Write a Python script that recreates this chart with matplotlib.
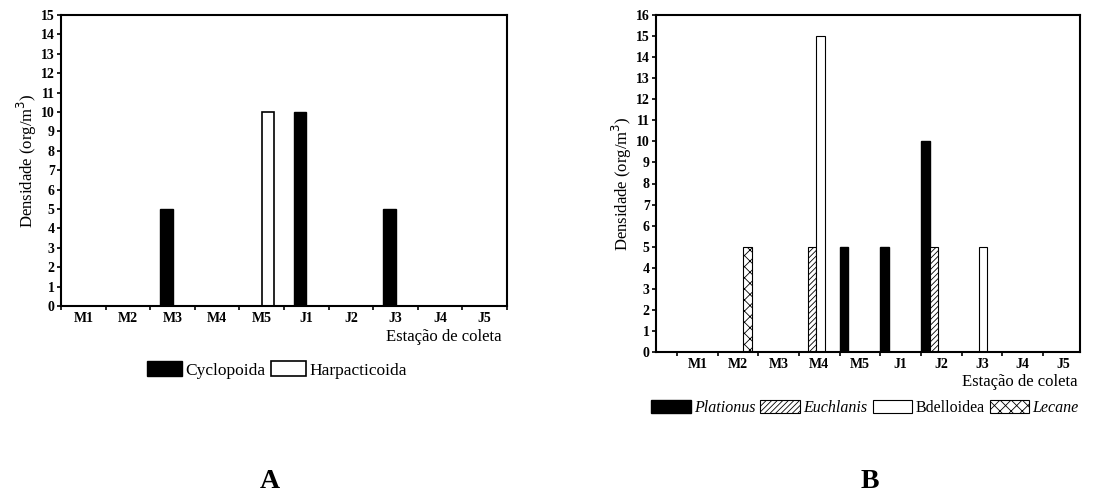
import numpy as np
import matplotlib.pyplot as plt
from matplotlib.ticker import FixedLocator, NullFormatter

plt.rcParams["font.family"] = ["Liberation Serif", "DejaVu Serif"]
plt.rcParams["hatch.linewidth"] = 0.6

# data
estacoes = ["M1", "M2", "M3", "M4", "M5", "J1", "J2", "J3", "J4", "J5"]

# A - copepods
cyclopoida = [0, 0, 5, 0, 0, 10, 0, 5, 0, 0]
harpacticoida = [0, 0, 0, 0, 10, 0, 0, 0, 0, 0]

# B - rotifers
plationus = [0, 0, 0, 0, 5, 5, 10, 0, 0, 0]
euchlanis = [0, 0, 0, 5, 0, 0, 5, 0, 0, 0]
bdelloidea = [0, 0, 0, 15, 0, 0, 0, 5, 0, 0]
lecane = [0, 5, 0, 0, 0, 0, 0, 0, 0, 0]

W, H = 1108, 497
fig = plt.figure(figsize=(W / 100, H / 100), dpi=100)

TICK_FS = 10
YLAB_FS = 12
XLAB_FS = 12


def style_axes(ax, ymax):
    for s in ax.spines.values():
        s.set_linewidth(1.5)
    ax.set_ylim(0, ymax)
    ax.set_yticks(range(ymax + 1))
    ax.tick_params(axis="y", direction="out", length=3, width=1.2, pad=1.5,
                   labelsize=TICK_FS)
    ax.tick_params(axis="x", which="major", length=0, pad=4, labelsize=TICK_FS)
    ax.tick_params(axis="x", which="minor", direction="out", length=3, width=1.2)
    for lab in ax.get_xticklabels() + ax.get_yticklabels():
        lab.set_fontweight("bold")


x = np.arange(len(estacoes))

########################################################################################
# A
axA = fig.add_axes([61 / W, 1 - 306 / H, (507 - 61) / W, (306 - 15) / H])
wA = 0.28
bA1 = axA.bar(x - wA, cyclopoida, wA, align="edge", color="black",
              edgecolor="black", linewidth=1)
bA2 = axA.bar(x, harpacticoida, wA, align="edge", color="white",
              edgecolor="black", linewidth=1.2)
axA.set_xlim(-0.5, 9.5)
axA.set_xticks(x)
axA.set_xticklabels(estacoes)
axA.xaxis.set_minor_locator(FixedLocator(np.arange(-0.5, 10, 1)))
axA.xaxis.set_minor_formatter(NullFormatter())
style_axes(axA, 15)
axA.set_ylabel("Densidade (org/m$^3$)", fontsize=YLAB_FS, labelpad=1)
fig.text(502 / W, 1 - 337 / H, "Estação de coleta", ha="right", va="center",
         fontsize=XLAB_FS)
fig.legend(handles=[bA1, bA2], labels=["Cyclopoida", "Harpacticoida"],
           loc="center", bbox_to_anchor=(277 / W, 1 - 370 / H), ncol=2,
           frameon=False, fontsize=12.5, handlelength=2.0, handleheight=0.9,
           handletextpad=0.2, columnspacing=0.3)

########################################################################################
# B
axB = fig.add_axes([656 / W, 1 - 352 / H, (1080 - 656) / W, (352 - 15) / H])
wB = 0.21
left = x - 0.5
hB = []
hB.append(axB.bar(left, plationus, wB, align="edge", color="black",
                  edgecolor="black", linewidth=1))
hB.append(axB.bar(left + wB, euchlanis, wB, align="edge", color="white",
                  edgecolor="black", linewidth=0.8, hatch="//////"))
hB.append(axB.bar(left + 2 * wB, bdelloidea, wB, align="edge", color="white",
                  edgecolor="black", linewidth=0.8))
hB.append(axB.bar(left + 3 * wB, lecane, wB, align="edge", color="white",
                  edgecolor="black", linewidth=0.8, hatch="xxx"))
axB.set_xlim(-1.016, 9.41)
axB.set_xticks(x)
axB.set_xticklabels(estacoes)
axB.xaxis.set_minor_locator(FixedLocator(np.arange(-0.5, 9.5, 1)))
axB.xaxis.set_minor_formatter(NullFormatter())
style_axes(axB, 16)
axB.set_ylabel("Densidade (org/m$^3$)", fontsize=YLAB_FS, labelpad=1)
fig.text(1077 / W, 1 - 382 / H, "Estação de coleta", ha="right", va="center",
         fontsize=XLAB_FS)
legB = fig.legend(handles=hB, labels=["Plationus", "Euchlanis", "Bdelloidea", "Lecane"],
                  loc="center", bbox_to_anchor=(865 / W, 1 - 408 / H), ncol=4,
                  frameon=False, fontsize=11.5, handlelength=2.5, handleheight=0.9,
                  handletextpad=0.2, columnspacing=0.3)
for t, italic in zip(legB.get_texts(), [True, True, False, True]):
    if italic:
        t.set_fontstyle("italic")

# panel letters
fig.text(270 / W, 1 - 481 / H, "A", ha="center", va="center", fontsize=20,
         fontweight="bold")
fig.text(870 / W, 1 - 481 / H, "B", ha="center", va="center", fontsize=20,
         fontweight="bold")

fig.savefig("out.png", dpi=100)
